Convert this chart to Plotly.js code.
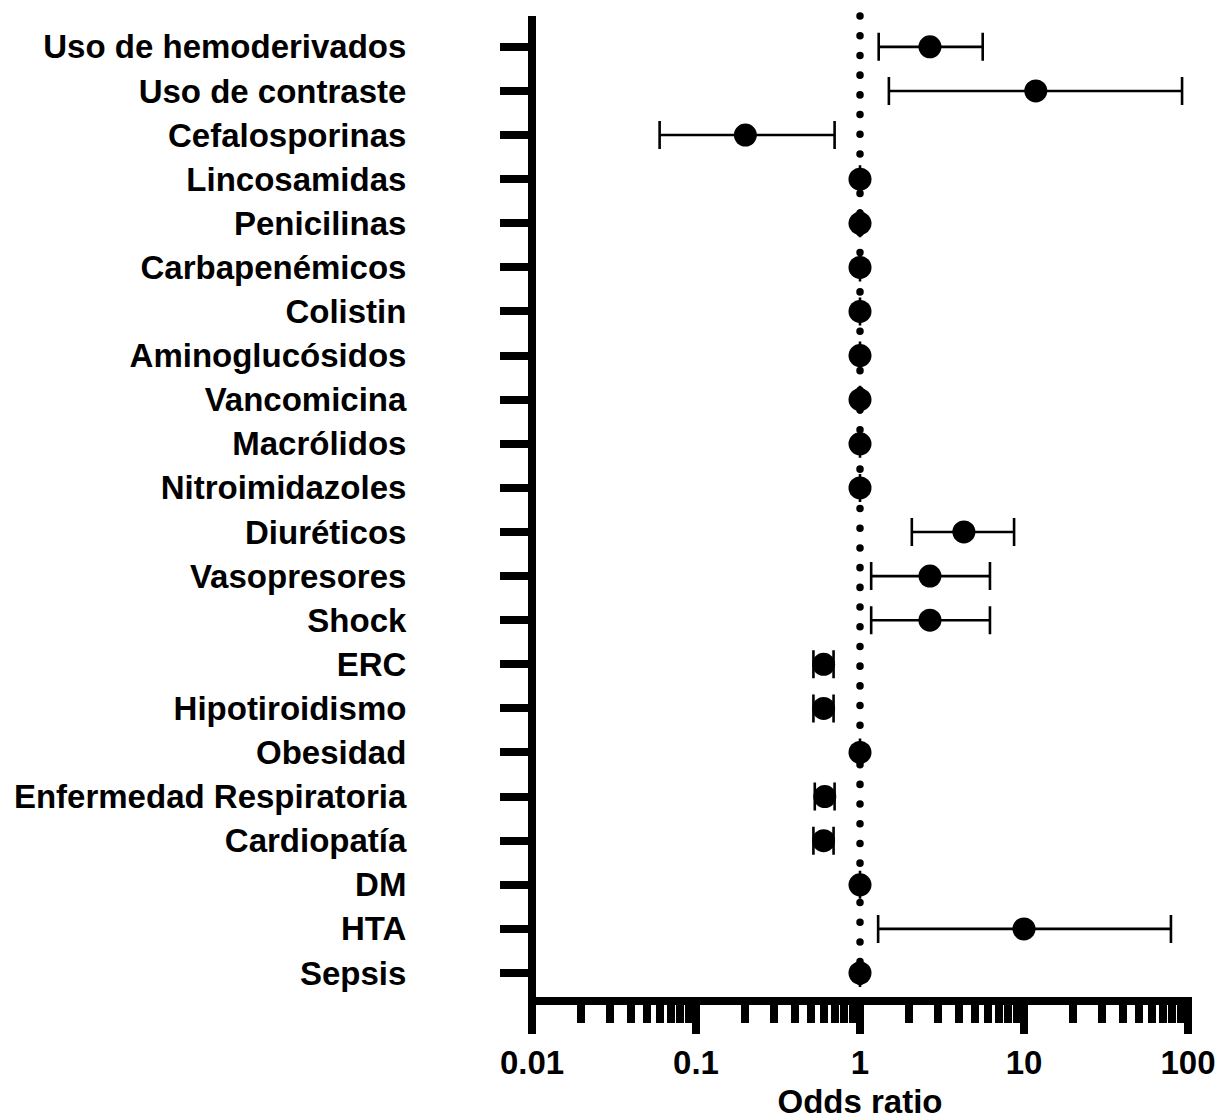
<!DOCTYPE html>
<html>
<head>
<meta charset="utf-8">
<script src="https://cdn.plot.ly/plotly-3.0.1.min.js"></script>
<style>html,body{margin:0;padding:0;background:#fff;}#chart{width:1220px;height:1120px;}</style>
</head>
<body>
<div id="chart"></div>
<script>
const categories = [
  "Uso de hemoderivados", "Uso de contraste", "Cefalosporinas", "Lincosamidas",
  "Penicilinas", "Carbapenémicos", "Colistin", "Aminoglucósidos", "Vancomicina",
  "Macrólidos", "Nitroimidazoles", "Diuréticos", "Vasopresores", "Shock", "ERC",
  "Hipotiroidismo", "Obesidad", "Enfermedad Respiratoria", "Cardiopatía", "DM",
  "HTA", "Sepsis"
];
const oddsRatio = [2.67, 11.8, 0.20, 1.0, 1.0, 1.0, 1.0, 1.0, 1.0, 1.0, 1.0,
  4.3, 2.67, 2.67, 0.60, 0.60, 1.0, 0.61, 0.60, 1.0, 10.0, 1.0];
const ciLower = [1.30, 1.50, 0.060, null, null, null, null, null, null, null, null,
  2.07, 1.17, 1.17, 0.52, 0.52, null, 0.53, 0.52, null, 1.29, null];
const ciUpper = [5.6, 92, 0.70, null, null, null, null, null, null, null, null,
  8.7, 6.2, 6.2, 0.69, 0.69, null, 0.70, 0.69, null, 78.7, null];
const xTickVals = [0.01, 0.1, 1, 10, 100];
const xTickText = ["0.01", "0.1", "1", "10", "100"];
const referenceOR = 1;

const errPlus = oddsRatio.map((v, i) => ciUpper[i] == null ? null : ciUpper[i] - v);
const errMinus = oddsRatio.map((v, i) => ciLower[i] == null ? null : v - ciLower[i]);

const font = {family: "Liberation Sans, Arial, sans-serif", size: 33, color: "#000", weight: "bold"};

const trace = {
  type: "scatter",
  mode: "markers",
  x: oddsRatio,
  y: categories,
  marker: {size: 23, color: "#000", line: {width: 0}},
  error_x: {
    type: "data", symmetric: false, array: errPlus, arrayminus: errMinus,
    color: "#000", thickness: 2.6, width: 14
  },
  cliponaxis: false,
  hoverinfo: "x+y"
};

const pw = 1188 - 532;
const layout = {
  width: 1220, height: 1120,
  margin: {l: 532, r: 32, t: 16, b: 119},
  paper_bgcolor: "#fff", plot_bgcolor: "#fff",
  showlegend: false,
  font: font,
  xaxis: {
    type: "log", range: [-2, 2],
    tickmode: "array", tickvals: xTickVals, ticktext: xTickText,
    ticks: "outside", ticklen: 32, tickwidth: 8, tickcolor: "#000",
    ticklabelstandoff: 0,
    minor: {ticks: "outside", ticklen: 21, tickwidth: 8, tickcolor: "#000", dtick: "D1", showgrid: false},
    showgrid: false, zeroline: false, showline: false,
    tickfont: font,
    title: {text: "Odds ratio", font: font, standoff: 35}
  },
  yaxis: {
    type: "category", categoryorder: "array", categoryarray: categories,
    range: [21.635, -0.70], autorange: false,
    ticks: "outside", ticklen: 31, tickwidth: 8, tickcolor: "#000",
    ticklabelstandoff: 87,
    showgrid: false, zeroline: false, showline: false,
    tickfont: font
  },
  shapes: [
    {type: "line", xref: "x", yref: "paper", x0: referenceOR, x1: referenceOR, y0: 1, y1: 0,
     line: {color: "#000", width: 7.5, dash: "0.1px,19.6px"}, layer: "below"},
    {type: "line", xref: "paper", yref: "paper", x0: 0, x1: 0, y0: 0, y1: 1,
     line: {color: "#000", width: 8}, layer: "above"},
    {type: "line", xref: "paper", yref: "paper", x0: -4 / pw, x1: 1 + 4 / pw, y0: 0, y1: 0,
     line: {color: "#000", width: 8}, layer: "above"}
  ]
};

Plotly.newPlot("chart", [trace], layout, {displayModeBar: false, staticPlot: true}).then(function () {
  document.querySelectorAll(".layer-below .shapelayer path").forEach(function (p) {
    p.style.strokeLinecap = "round";
  });
});
</script>
</body>
</html>
